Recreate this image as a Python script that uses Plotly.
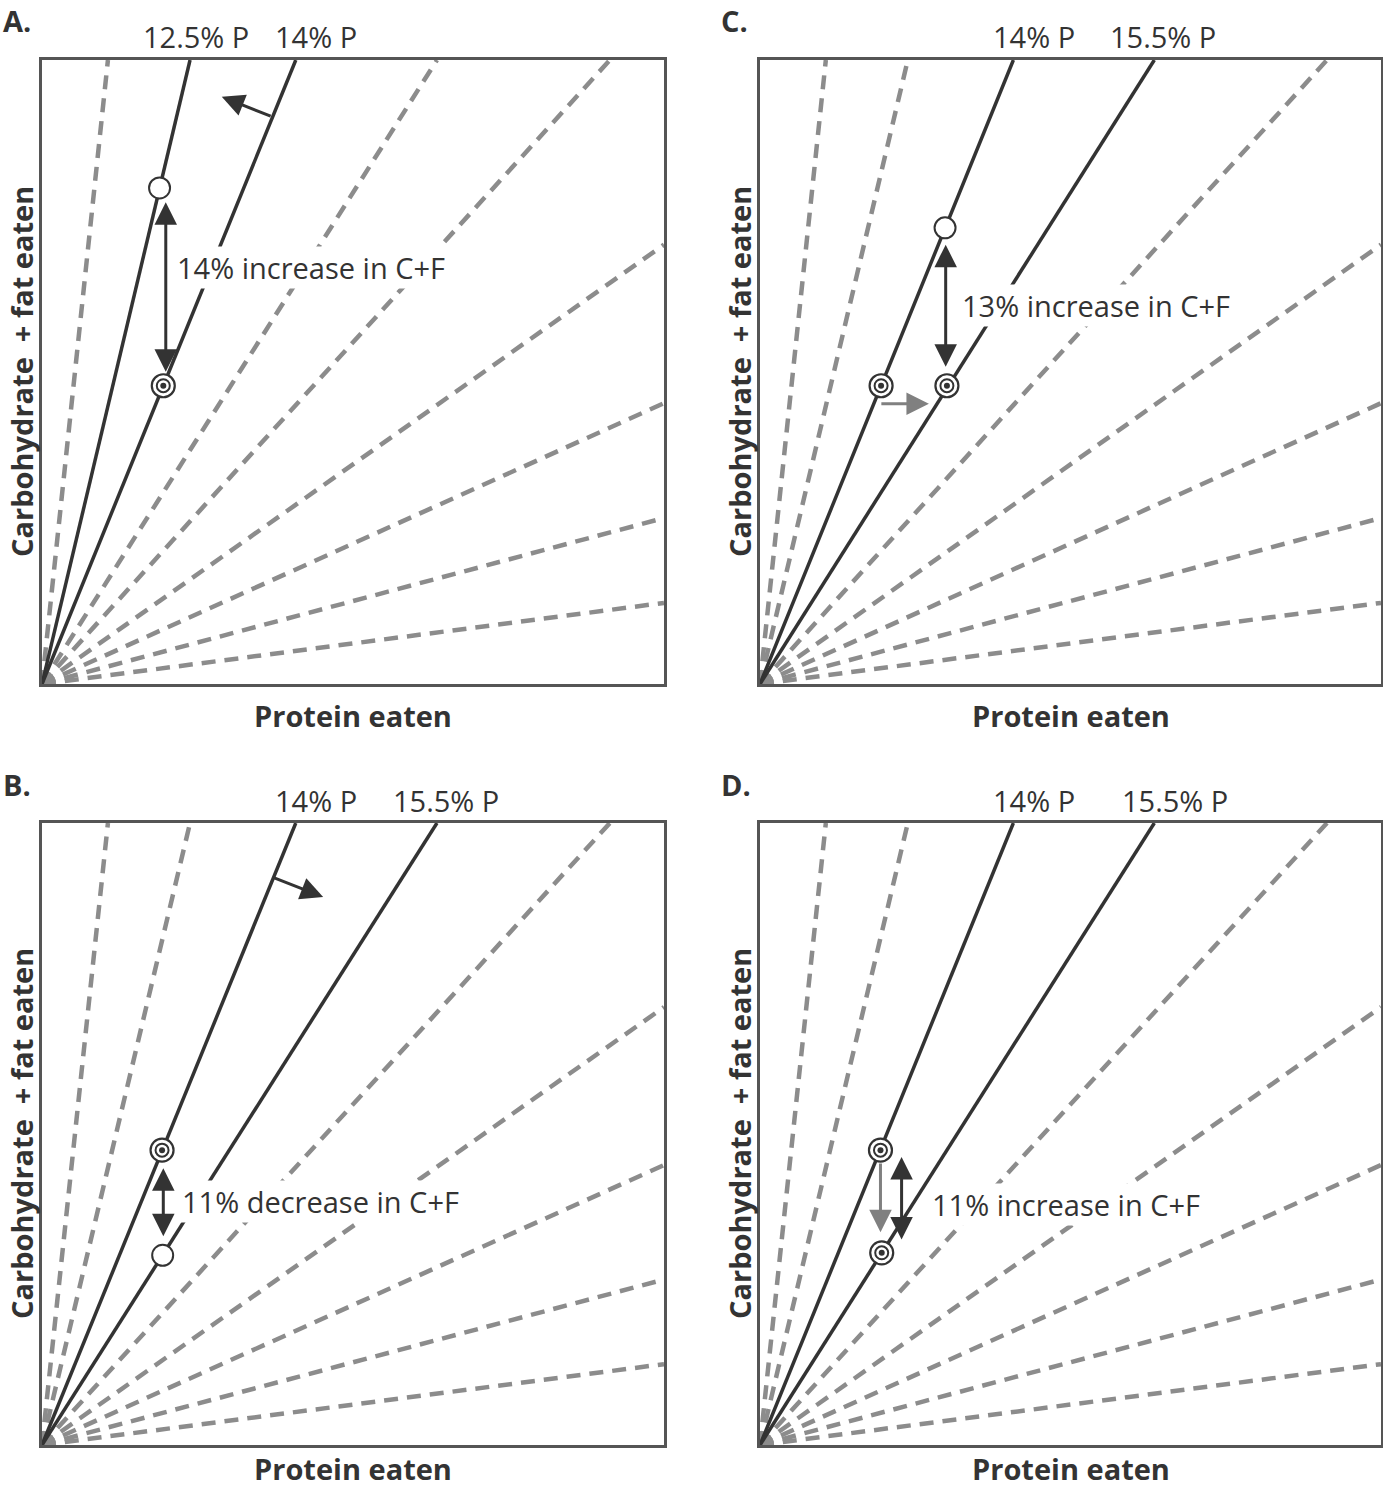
import plotly.graph_objects as go

# ---------------- data ----------------
panels = ["A", "C", "B", "D"]
# rays from origin: end on top edge (x at y=1) or right edge (y at x=1)
ray_top_x = [0.106, 0.238, 0.408, 0.635, 0.913]
ray_right_y = [0.704, 0.450, 0.266, 0.130]
# index (into ray_top_x) of solid rays per panel
solid_rays = {"A": [1, 2], "C": [2, 3], "B": [2, 3], "D": [2, 3]}
top_labels = {
    "A": ["12.5% P", "14% P"],
    "C": ["14% P", "15.5% P"],
    "B": ["14% P", "15.5% P"],
    "D": ["14% P", "15.5% P"],
}
# markers (protein, C+F) in panel units
open_pts = {"A": ([0.189], [0.795]), "C": ([0.298], [0.731]), "B": ([0.194], [0.305]), "D": ([], [])}
bull_pts = {
    "A": ([0.195], [0.478]),
    "C": ([0.195, 0.301], [0.478, 0.478]),
    "B": ([0.193], [0.474]),
    "D": ([0.194, 0.196], [0.474, 0.309]),
}
notes = {
    "A": "14% increase in C+F",
    "C": "13% increase in C+F",
    "B": "11% decrease in C+F",
    "D": "11% increase in C+F",
}

DARK = "#333333"
GRAY = "#8c8c8c"
FONT = "Open Sans"
W, H = 1383, 1489

# panel pixel boxes (left, top, right, bottom)
boxes = {
    "A": (42, 60, 664, 684),
    "C": (760, 60, 1381, 684),
    "B": (42, 823, 664, 1445),
    "D": (760, 823, 1381, 1445),
}
title_offset = {"A": 31, "C": 31, "B": 23, "D": 23}

def px(x):
    return x / W

def py(y):
    return 1 - y / H

fig = go.Figure()
layout = dict(
    width=W, height=H, margin=dict(l=0, r=0, t=0, b=0),
    paper_bgcolor="white", plot_bgcolor="white", showlegend=False,
)
annotations = []

for i, p in enumerate(panels):
    n = "" if i == 0 else str(i + 1)
    xa, ya = "x" + n, "y" + n
    l, t, r, b = boxes[p]
    axis_common = dict(range=[0, 1], showgrid=False, zeroline=False, showticklabels=False,
                       ticks="", showline=True, mirror=True, linecolor="#555555", linewidth=2.5,
                       fixedrange=True)
    layout["xaxis" + n] = dict(domain=[px(l), px(r)], anchor=ya, **axis_common)
    layout["yaxis" + n] = dict(domain=[py(b), py(t)], anchor=xa, **axis_common)

    # rays
    ends = [(xt, 1.0) for xt in ray_top_x] + [(1.0, yr) for yr in ray_right_y]
    for k, (ex, ey) in enumerate(ends):
        solid = k < len(ray_top_x) and k in solid_rays[p]
        if solid:
            continue
        fig.add_trace(go.Scatter(x=[0, ex], y=[0, ey], mode="lines", xaxis=xa, yaxis=ya,
                                 line=dict(color=GRAY, width=4.5, dash="14px,9px"), hoverinfo="skip"))
    for k in solid_rays[p]:
        fig.add_trace(go.Scatter(x=[0, ray_top_x[k]], y=[0, 1], mode="lines", xaxis=xa, yaxis=ya,
                                 line=dict(color=DARK, width=3.5), hoverinfo="skip"))

    # open circles
    ox, oy = open_pts[p]
    if ox:
        fig.add_trace(go.Scatter(x=ox, y=oy, mode="markers", xaxis=xa, yaxis=ya,
                                 marker=dict(symbol="circle", size=21, color="white",
                                             line=dict(color=DARK, width=2)), hoverinfo="skip"))
    # bullseyes
    bx, by = bull_pts[p]
    fig.add_trace(go.Scatter(x=bx, y=by, mode="markers", xaxis=xa, yaxis=ya,
                             marker=dict(symbol="circle", size=23, color="white",
                                         line=dict(color=DARK, width=2.2)), hoverinfo="skip"))
    fig.add_trace(go.Scatter(x=bx, y=by, mode="markers", xaxis=xa, yaxis=ya,
                             marker=dict(symbol="circle-open", size=13, color=DARK,
                                         line=dict(color=DARK, width=2)), hoverinfo="skip"))
    fig.add_trace(go.Scatter(x=bx, y=by, mode="markers", xaxis=xa, yaxis=ya,
                             marker=dict(symbol="circle", size=6, color=DARK), hoverinfo="skip"))

    # panel letter
    annotations.append(dict(text="<b>%s.</b>" % p, xref="paper", yref="paper",
                            x=px(l - 41), y=py(t - 39), xanchor="left", yanchor="middle",
                            showarrow=False, font=dict(family=FONT, size=29, color=DARK)))
    # axis titles
    annotations.append(dict(text="<b>Protein eaten</b>", xref="paper", yref="paper",
                            x=px((l + r) / 2), y=py(b + title_offset[p]), xanchor="center",
                            yanchor="middle", showarrow=False,
                            font=dict(family=FONT, size=29, color=DARK)))
    annotations.append(dict(text="<b>Carbohydrate \u00a0+ fat eaten</b>", xref="paper", yref="paper",
                            x=px(l - 21), y=py((t + b) / 2), xanchor="center", yanchor="middle",
                            textangle=-90, showarrow=False, font=dict(family=FONT, size=29, color=DARK)))

# top labels (pixel centers)
label_px = {"A": [196, 316], "C": [1034, 1163], "B": [316, 446], "D": [1034, 1175]}
for p in panels:
    l, t, r, b = boxes[p]
    for txt, cx in zip(top_labels[p], label_px[p]):
        annotations.append(dict(text=txt, xref="paper", yref="paper", x=px(cx), y=py(t - 23),
                                xanchor="center", yanchor="middle", showarrow=False,
                                font=dict(family=FONT, size=29, color=DARK)))

# notes (inside panels, in panel coords)
note_pos = {"A": (0.214, 0.667), "C": (0.322, 0.607), "B": (0.222, 0.391), "D": (0.273, 0.386)}
axis_names = {"A": ("x", "y"), "C": ("x2", "y2"), "B": ("x3", "y3"), "D": ("x4", "y4")}
for p in panels:
    xr, yr = axis_names[p]
    nx, ny = note_pos[p]
    annotations.append(dict(text=notes[p], xref=xr, yref=yr, x=nx, y=ny, xanchor="left",
                            yanchor="middle", showarrow=False, bgcolor="white", borderpad=1,
                            font=dict(family=FONT, size=29, color=DARK)))

# arrows: (panel, tail x, tail y, head x, head y, color, double)
arrows = [
    ("A", 0.370, 0.909, 0.289, 0.941, DARK, False),
    ("A", 0.199, 0.498, 0.199, 0.772, DARK, True),
    ("C", 0.299, 0.506, 0.299, 0.704, DARK, True),
    ("C", 0.193, 0.449, 0.272, 0.449, "#808080", False),
    ("B", 0.370, 0.913, 0.452, 0.881, DARK, False),
    ("B", 0.195, 0.333, 0.195, 0.445, DARK, True),
    ("D", 0.194, 0.455, 0.194, 0.342, "#808080", False),
    ("D", 0.228, 0.328, 0.228, 0.463, DARK, True),
]
for p, tx, ty, hx, hy, col, dbl in arrows:
    xr, yr = axis_names[p]
    a = dict(text="", xref=xr, yref=yr, axref=xr, ayref=yr, x=hx, y=hy, ax=tx, ay=ty,
             showarrow=True, arrowhead=2, arrowsize=1.5, arrowwidth=3, arrowcolor=col,
             standoff=0, startstandoff=0)
    if dbl:
        a.update(arrowside="end+start", startarrowhead=2, startarrowsize=1.5)
    annotations.append(a)

layout["annotations"] = annotations
fig.update_layout(**layout)
fig.write_html("out.html", config={"displayModeBar": False},
               post_script="document.body.style.margin='0';document.body.style.overflow='hidden';")
